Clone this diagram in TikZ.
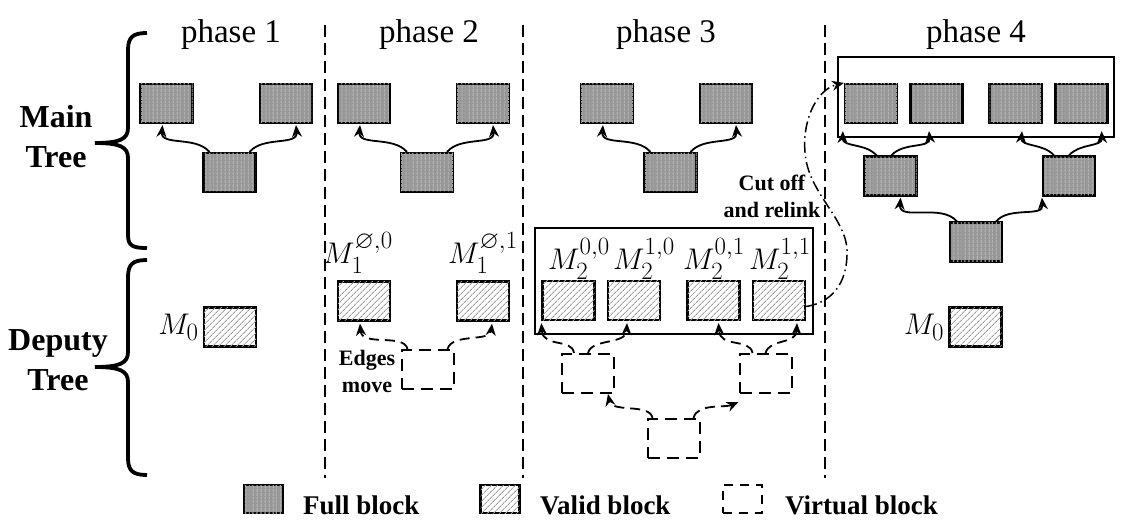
\RequirePackage{fix-cm}
\documentclass[tikz,border=0pt]{standalone}
\usepackage{fontspec}
\setmainfont{Liberation Serif}
\usepackage{amssymb}
\usetikzlibrary{arrows.meta,patterns.meta}
\definecolor{fullgray}{RGB}{150,150,150}
\definecolor{fullgray2}{RGB}{166,166,166}
\begin{document}
\begin{tikzpicture}[x=1pt,y=1pt,
 blk/.style={draw,line width=2.2pt,minimum width=52pt,minimum height=39pt,inner sep=0pt},
 full/.style={blk,fill=fullgray,postaction={pattern={Lines[angle=90,distance=4pt,line width=1.3pt]},pattern color=fullgray2}},
 valid/.style={blk,fill=white,postaction={pattern={Lines[angle=45,distance=4pt,line width=0.9pt]},pattern color=gray!75}},
 virt/.style={blk,line width=2pt,dash pattern=on 12pt off 7pt},
 legblk/.style={minimum width=39pt,minimum height=28pt},
 box/.style={draw,line width=1.9pt,inner sep=0pt},
 arr/.style={-{Stealth[length=12pt,width=10pt]},line width=1.8pt},
 darr/.style={arr,dash pattern=on 10pt off 6pt},
 ddarr/.style={-{Stealth[length=12pt,width=10pt]},line width=1.5pt,dash pattern=on 11pt off 4pt on 1.5pt off 4pt},
 sep/.style={line width=2pt,dash pattern=on 12pt off 6pt},
 brc/.style={line width=3.8pt},
 ttl/.style={font=\fontsize{33}{40}\selectfont,inner sep=0pt},
 side/.style={font=\fontsize{32}{40}\selectfont\bfseries,align=center},
 note/.style={font=\fontsize{22}{27}\selectfont\bfseries,align=center},
 leg/.style={font=\fontsize{27}{32}\selectfont\bfseries,anchor=base west,inner sep=0pt},
 mlab/.style={font=\fontsize{24.88}{30}\selectfont,inner sep=0pt,scale=1.2}
]
\useasboundingbox (0,0) rectangle (1124,-521);

% separators
\draw[sep] (325,-25) -- (325,-478);
\draw[sep] (523,-25) -- (523,-478);
\draw[sep] (825,-25) -- (825,-478);

% braces
\draw[brc] (147,-33) .. controls (133,-33) and (128,-37) .. (128,-50) -- (128,-128)
  .. controls (128,-139) and (120,-143) .. (95,-143)
  .. controls (120,-143) and (128,-147) .. (128,-158) -- (128,-235)
  .. controls (128,-246) and (133,-248) .. (147,-248);
\draw[brc] (147,-260) .. controls (133,-260) and (128,-264) .. (128,-277) -- (128,-352)
  .. controls (128,-363) and (120,-367) .. (95,-367)
  .. controls (120,-367) and (128,-371) .. (128,-382) -- (128,-458)
  .. controls (128,-471) and (133,-475) .. (147,-475);
\node[side] (mt) at (56,-137) {Main\\Tree};
\node[side] (dt) at (58,-360) {Deputy\\Tree};

% titles
\node[ttl] (t1) at (231,-35) {phase 1};
\node[ttl] (t2) at (429,-35) {phase 2};
\node[ttl] (t3) at (666,-35) {phase 3};
\node[ttl] (t4) at (976,-35) {phase 4};

% ---- phase 1
\node[full] (p1l) at (166.5,-103.5) {};
\node[full] (p1r) at (286,-103.5) {};
\node[full] (p1c) at (229.5,-172.5) {};
\draw[arr] ([xshift=7pt]p1c.north west) to[out=130,in=-95] ([xshift=-4pt,yshift=-1pt]p1l.south);
\draw[arr] ([xshift=-7pt]p1c.north east) to[out=50,in=-85] ([xshift=10pt,yshift=-1pt]p1r.south);
\node[valid] (d1) at (230,-327) {};
\node[mlab,anchor=east] (d1m) at ([xshift=-4pt]d1.west) {$M_0$};

% ---- phase 2
\node[full] (p2l) at (364,-103.5) {};
\node[full] (p2r) at (483,-103.5) {};
\node[full] (p2c) at (427,-172.5) {};
\draw[arr] ([xshift=7pt]p2c.north west) to[out=130,in=-95] ([xshift=-4pt,yshift=-1pt]p2l.south);
\draw[arr] ([xshift=-7pt]p2c.north east) to[out=50,in=-85] ([xshift=10pt,yshift=-1pt]p2r.south);
\node[valid] (v2l) at (364,-301) {};
\node[valid] (v2r) at (483,-301) {};
\node[mlab] (v2lm) at (358,-253) {$M_1^{\varnothing,0}$};
\node[mlab] (v2rm) at (483,-253) {$M_1^{\varnothing,1}$};
\node[virt] (vv2) at (427.5,-369.5) {};
\draw[darr] ([xshift=7pt]vv2.north west) .. controls (404,-333) and (362,-347) .. ([xshift=-4pt,yshift=-2pt]v2l.south);
\draw[darr] ([xshift=-7pt]vv2.north east) .. controls (452,-333) and (490,-342) .. ([xshift=9pt,yshift=-2pt]v2r.south);
\node[note] (em) at (367,-371) {Edges\\move};

% ---- phase 3
\node[full] (p3l) at (607,-103.5) {};
\node[full] (p3r) at (726,-103.5) {};
\node[full] (p3c) at (670.5,-172.5) {};
\draw[arr] ([xshift=7pt]p3c.north west) to[out=130,in=-95] ([xshift=-4pt,yshift=-1pt]p3l.south);
\draw[arr] ([xshift=-7pt]p3c.north east) to[out=50,in=-85] ([xshift=10pt,yshift=-1pt]p3r.south);
\node[box,minimum width=278pt,minimum height=106pt] (c3) at (674,-281) {};
\node[valid] (w1) at (568.5,-300.5) {};
\node[valid] (w2) at (634,-300.5) {};
\node[valid] (w3) at (713.5,-300.5) {};
\node[valid] (w4) at (779,-300.5) {};
\node[mlab] (w1m) at (579,-259) {$M_2^{0,0}$};
\node[mlab] (w2m) at (644,-259) {$M_2^{1,0}$};
\node[mlab] (w3m) at (714,-259) {$M_2^{0,1}$};
\node[mlab] (w4m) at (780,-259) {$M_2^{1,1}$};
\node[virt] (vl) at (588,-373.5) {};
\node[virt] (vr) at (765.5,-373.5) {};
\node[virt] (vb) at (673.5,-438.5) {};
\draw[darr] ([xshift=13pt]vl.north west) .. controls (572,-338) and (543,-348) .. ([yshift=-2pt]w1.south west);
\draw[darr] (vl.north) .. controls (592,-338) and (626,-345) .. ([xshift=-7pt,yshift=-2pt]w2.south);
\draw[darr] ([xshift=14pt]vr.north west) .. controls (750,-338) and (720,-348) .. ([xshift=5pt,yshift=-2pt]w3.south);
\draw[darr] (vr.north) .. controls (770,-338) and (796,-345) .. ([xshift=18pt,yshift=-2pt]w4.south);
\draw[darr] ([xshift=6pt]vb.north west) .. controls (650,-403) and (612,-413) .. ([xshift=-7pt]vl.south east);
\draw[darr] ([xshift=-7pt]vb.north east) .. controls (697,-403) and (725,-408) .. ([yshift=-8pt]vr.south west);

% ---- phase 4
\node[box,minimum width=276pt,minimum height=80pt] (c4) at (976,-97) {};
\node[full] (q1) at (871,-103.5) {};
\node[full] (q2) at (936.5,-103.5) {};
\node[full] (q3) at (1015.5,-103.5) {};
\node[full] (q4) at (1081.5,-103.5) {};
\node[full] (m1) at (890.5,-176) {};
\node[full] (m2) at (1069,-176) {};
\node[full] (qb) at (976,-242) {};
\draw[arr] ([xshift=13pt]m1.north west) to[out=130,in=-92] ([xshift=-1pt,yshift=-7pt]q1.south west);
\draw[arr] ([xshift=1pt]m1.north) to[out=50,in=-85] ([xshift=-7.5pt,yshift=-7pt]q2.south);
\draw[arr] ([xshift=12pt]m2.north west) to[out=130,in=-95] ([xshift=6.5pt,yshift=-7pt]q3.south);
\draw[arr] (m2.north) to[out=50,in=-88] ([xshift=-7pt,yshift=-7pt]q4.south east);
\draw[arr] ([xshift=8pt]qb.north west) to[out=130,in=-95] ([xshift=-17pt,yshift=-1pt]m1.south east);
\draw[arr] ([xshift=-7pt]qb.north east) to[out=50,in=-85] ([yshift=-1pt]m2.south west);
\node[valid] (d4) at (975.5,-327) {};
\node[mlab,anchor=east] (d4m) at ([xshift=-4pt]d4.west) {$M_0$};

% cut off and relink
\draw[ddarr] ([yshift=-6pt]w4.east) .. controls (830,-303) and (848,-285) .. (847,-250)
  .. controls (846,-220) and (812,-195) .. (806,-160)
  .. controls (800,-125) and (815,-90) .. (q1.north west);
\node[note] (co) at (772,-196) {Cut off\\and relink};

% legend
\node[full,legblk] (lf) at (263.5,-499) {};
\node[leg] (lft) at (303,-514) {Full block};
\node[valid,legblk] (lv) at (500,-499) {};
\node[leg] (lvt) at (540,-514) {Valid block};
\node[virt,legblk,dash pattern=on 9pt off 7pt] (lw) at (742,-499) {};
\node[leg] (lwt) at (785,-514) {Virtual block};
\end{tikzpicture}
\end{document}
